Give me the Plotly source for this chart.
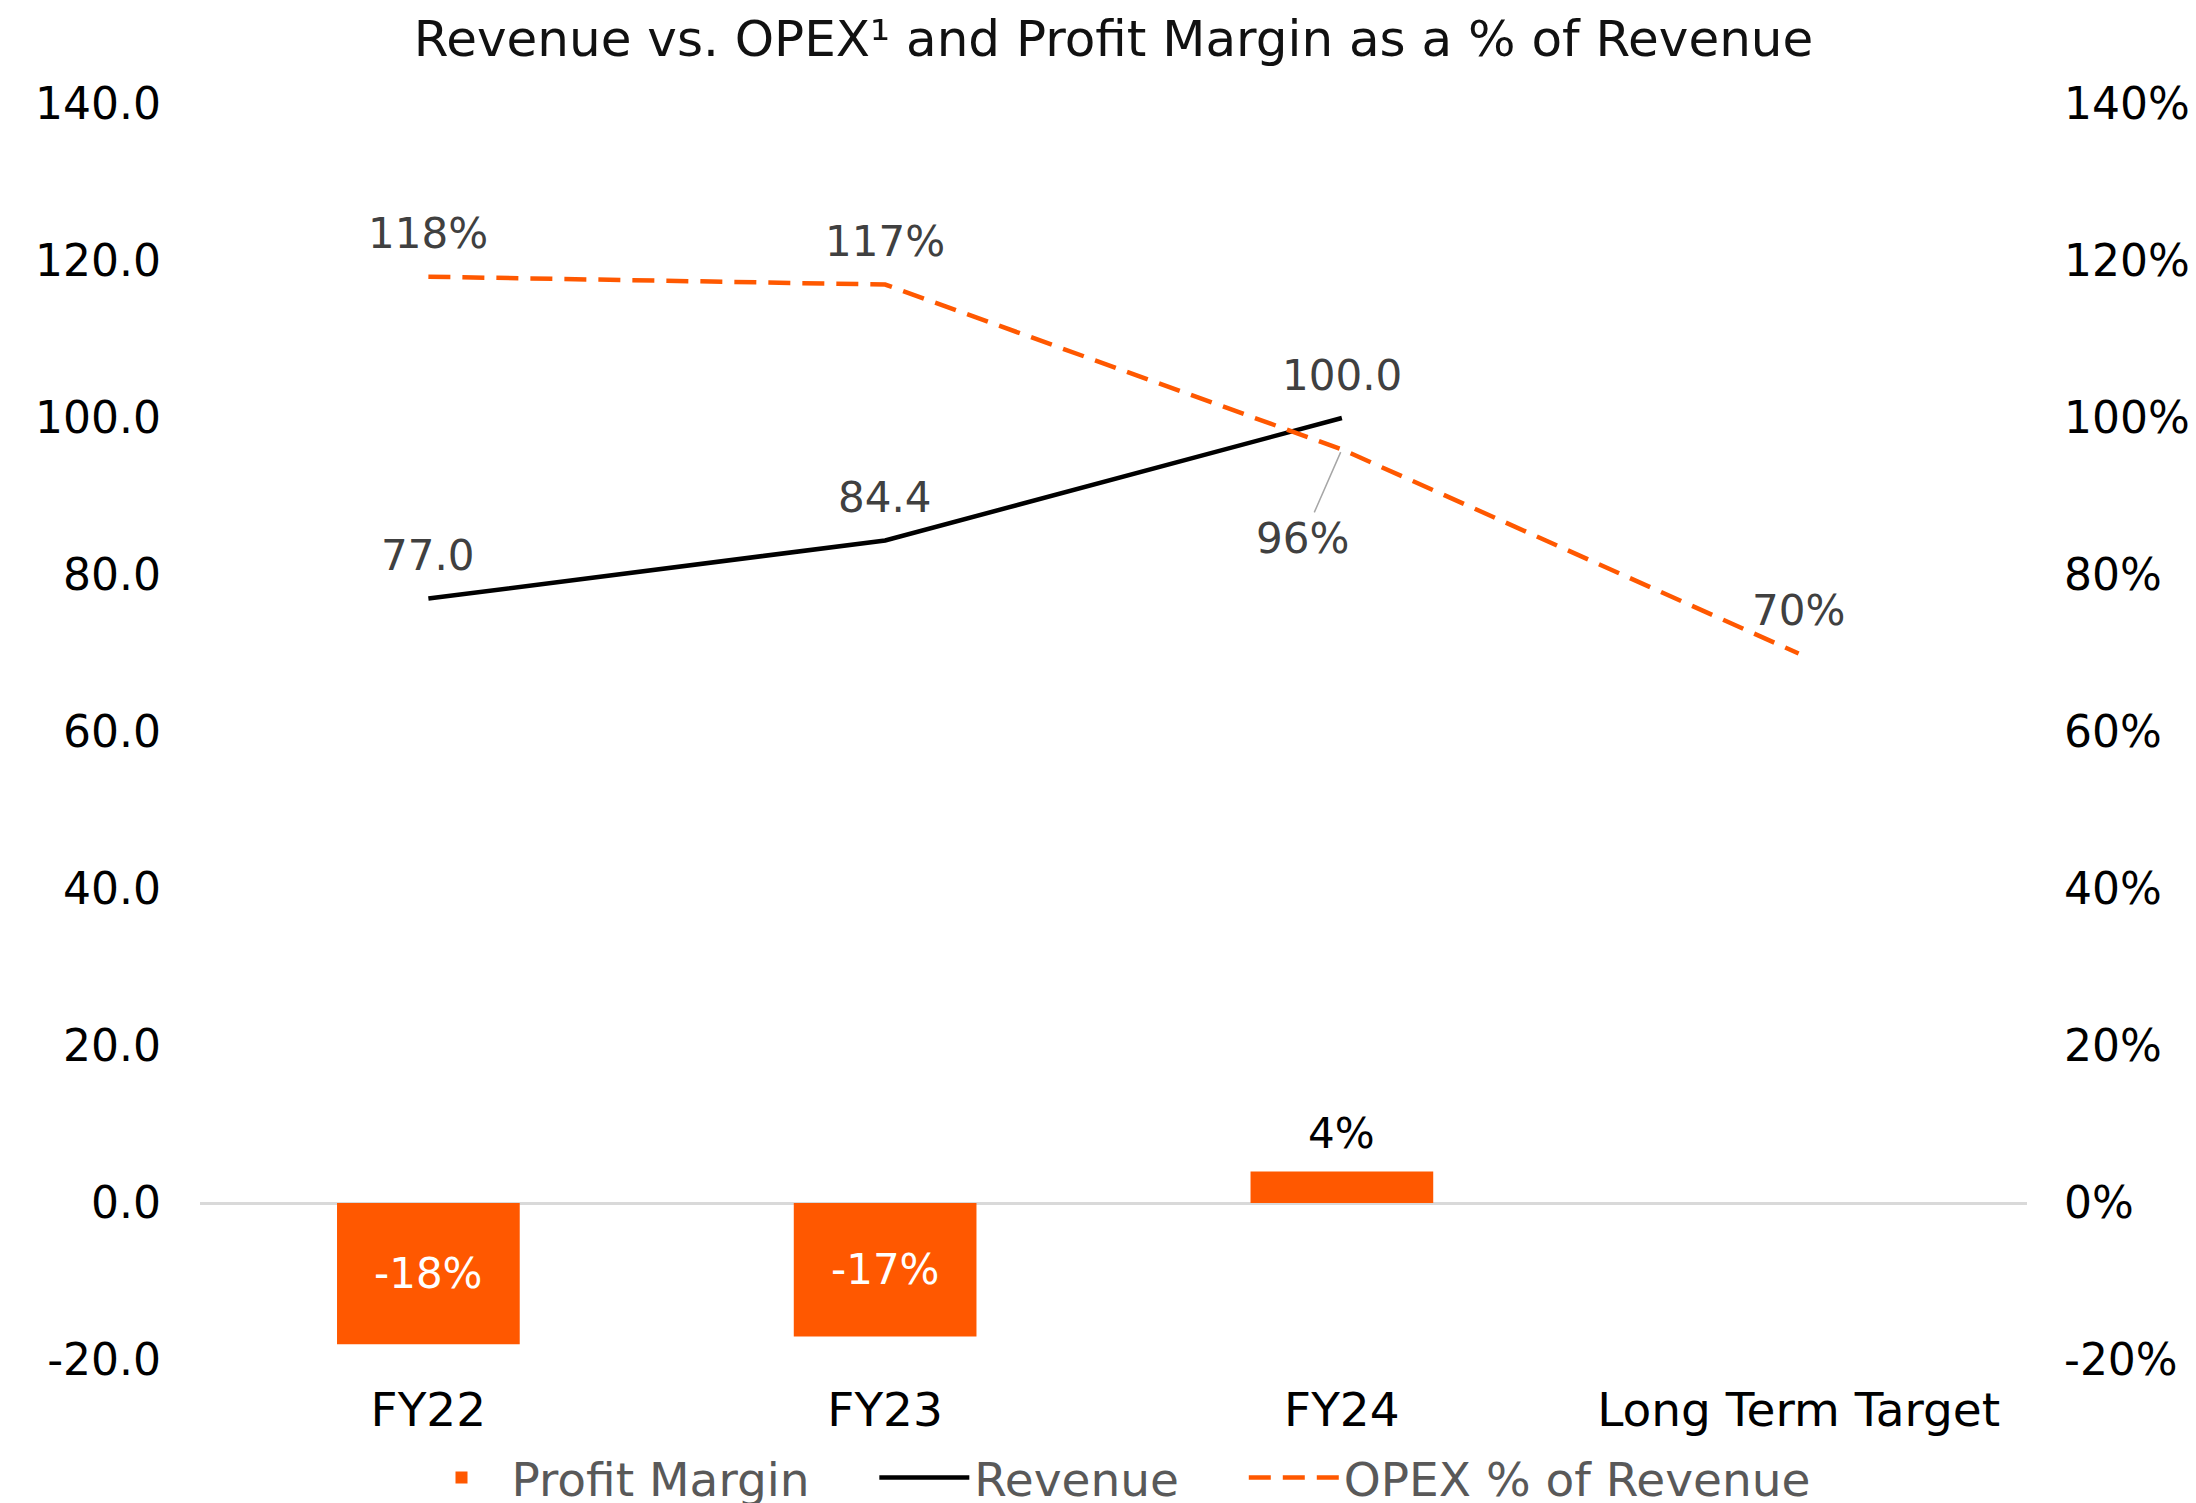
import plotly.graph_objects as go

categories = ["FY22", "FY23", "FY24", "Long Term Target"]
profit_margin = [-18, -17, 4, None]          # % of revenue
revenue = [77.0, 84.4, 100.0, None]
opex_pct = [118, 117, 96, 70]                # % of revenue

left_ticks = [-20, 0, 20, 40, 60, 80, 100, 120, 140]
left_labels = ["-20.0", "0.0", "20.0", "40.0", "60.0", "80.0", "100.0", "120.0", "140.0"]
right_ticks = [-20, 0, 20, 40, 60, 80, 100, 120, 140]
right_labels = ["-20%", "0%", "20%", "40%", "60%", "80%", "100%", "120%", "140%"]

ORANGE = "#FF5800"
FONT = "DejaVu Sans"
FS_LAB = 42
FS_TICK = 44
FS_CAT = 47
FS_LEG = 47
FS_TITLE = 50

# page body adds an 8px offset; compensate in margins
OFF = 8
GAP = "\u00a0" * 4  # spacing between legend entries

fig = go.Figure()
fig.add_trace(go.Bar(
    x=categories, y=profit_margin, name="Profit Margin" + GAP, yaxis="y2",
    marker=dict(color=ORANGE, line=dict(width=0)), width=0.4,
))
fig.add_trace(go.Scatter(
    x=categories, y=revenue, name="Revenue" + GAP, mode="lines", yaxis="y",
    line=dict(color="black", width=4.5),
))
fig.add_trace(go.Scatter(
    x=categories, y=opex_pct, name="OPEX % of Revenue", mode="lines", yaxis="y2",
    line=dict(color=ORANGE, width=4.5, dash="22px,12px"),
))

ann = []
lab_color = "#404040"
for c, v in zip(categories, revenue):
    if v is not None:
        ann.append(dict(x=c, y=v, yref="y", text=f"{v:.1f}", showarrow=False,
                        yshift=43, font=dict(size=FS_LAB, color=lab_color, family=FONT)))
for c, v in zip(categories, opex_pct):
    if c == "FY24":
        ann.append(dict(x=c, y=v, yref="y2", text=f"{v:.0f}%", showarrow=True,
                        arrowhead=0, arrowwidth=1.5, arrowcolor="#A6A6A6",
                        ax=-39, ay=89, standoff=3,
                        font=dict(size=FS_LAB, color=lab_color, family=FONT)))
    else:
        ann.append(dict(x=c, y=v, yref="y2", text=f"{v:.0f}%", showarrow=False,
                        yshift=43, font=dict(size=FS_LAB, color=lab_color, family=FONT)))
for c, v in zip(categories, profit_margin):
    if v is None:
        continue
    if v < 0:
        ann.append(dict(x=c, y=v / 2, yref="y2", text=f"{v:.0f}%", showarrow=False,
                        font=dict(size=FS_LAB, color="white", family=FONT)))
    else:
        ann.append(dict(x=c, y=v, yref="y2", text=f"{v:.0f}%", showarrow=False,
                        yshift=38, font=dict(size=FS_LAB, color="black", family=FONT)))

fig.update_layout(
    width=2196, height=1503,
    margin=dict(l=200 - OFF, r=169 + OFF, t=104 - OFF, b=143 + OFF, autoexpand=False),
    paper_bgcolor="white", plot_bgcolor="white",
    font=dict(family=FONT, size=FS_TICK, color="black"),
    title=dict(text="Revenue vs. OPEX\u00b9 and Profit Margin as a % of Revenue",
               x=0.5, xref="paper", xanchor="center", y=1 - 30 / 1503, yanchor="middle",
               font=dict(size=FS_TITLE, color="#111111", family=FONT)),
    xaxis=dict(type="category", range=[-0.5, 3.5], showgrid=False, showline=False,
               ticks="", ticklabelstandoff=18, automargin=False,
               tickfont=dict(size=FS_CAT, color="black")),
    yaxis=dict(range=[-20, 140], tickvals=left_ticks, ticktext=left_labels,
               showgrid=False, showline=False, ticks="", automargin=False,
               zeroline=True, zerolinecolor="#D9D9D9", zerolinewidth=2.5,
               ticklabelstandoff=38, tickfont=dict(size=FS_TICK, color="black")),
    yaxis2=dict(range=[-20, 140], tickvals=right_ticks, ticktext=right_labels,
                overlaying="y", side="right", showgrid=False, showline=False,
                ticks="", zeroline=False, ticklabelstandoff=36, automargin=False,
                tickfont=dict(size=FS_TICK, color="black")),
    legend=dict(orientation="h", x=0.5, xanchor="center", y=-0.094, yanchor="middle",
                font=dict(size=FS_LEG, color="#595959", family=FONT),
                itemwidth=90, traceorder="normal", bgcolor="rgba(0,0,0,0)"),
    annotations=ann,
    showlegend=True,
)

fig.write_html("out.html")
